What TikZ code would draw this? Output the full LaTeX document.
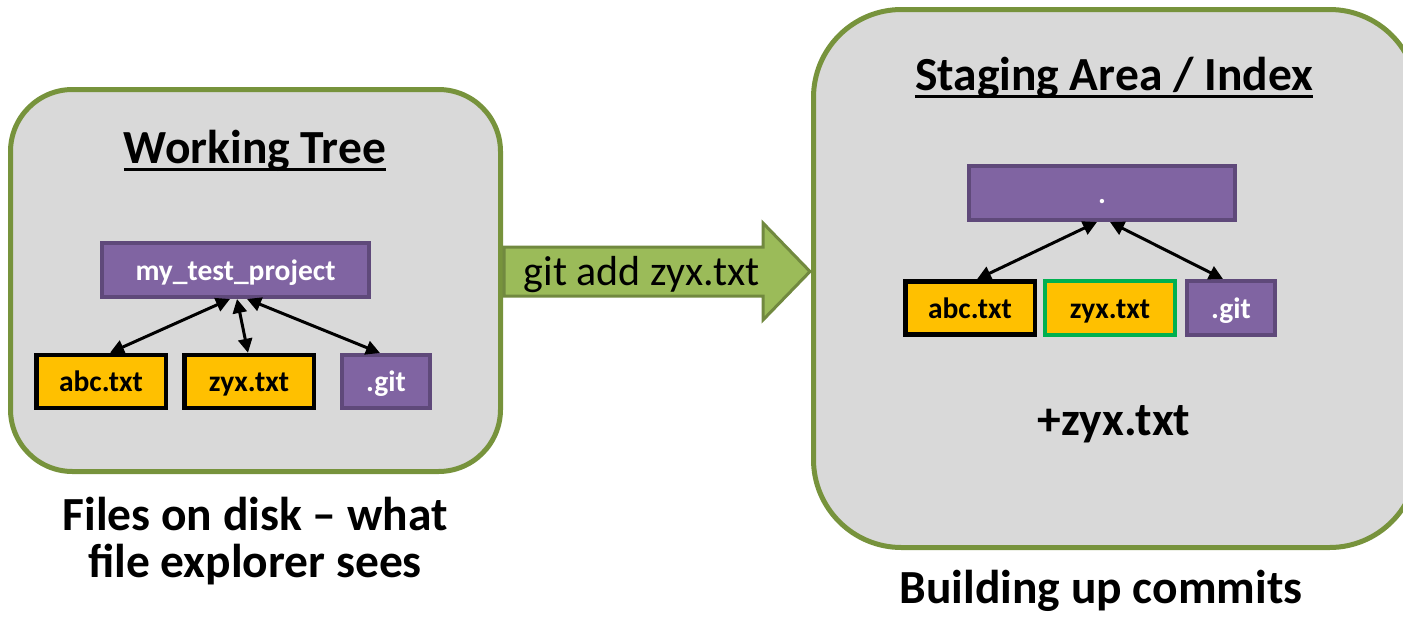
\documentclass[tikz,border=0pt]{standalone}
\usepackage{fontspec}
\setmainfont{Carlito}
\usetikzlibrary{arrows.meta,calc}
\definecolor{panelfill}{HTML}{D9D9D9}
\definecolor{panelline}{HTML}{77933C}
\definecolor{dirfill}{HTML}{8064A2}
\definecolor{dirline}{HTML}{5F497A}
\definecolor{filefill}{HTML}{FFC000}
\definecolor{stagedline}{HTML}{00B050}
\definecolor{cmdfill}{HTML}{9BBB59}
\definecolor{cmdline}{HTML}{71893F}
\begin{document}
\begin{tikzpicture}[x=1pt,y=-1pt,
  panel/.style={draw=panelline, fill=panelfill, line width=5pt, inner sep=0pt},
  bigtext/.style={inner sep=0pt, anchor=base, font=\fontsize{47.5}{48}\selectfont\bfseries},
  entry/.style={inner sep=0pt, line width=4pt, minimum height=54pt,
    font=\fontsize{29.5}{30}\selectfont\bfseries, text height=20pt, text depth=0pt},
  dirbox/.style={entry, draw=dirline, fill=dirfill, text=white},
  filebox/.style={entry, draw=black, fill=filefill, line width=4.5pt, minimum height=53pt},
  stagedbox/.style={entry, draw=stagedline, fill=filefill},
  link/.style={line width=3pt, {Triangle[length=14pt,width=14pt]}-{Triangle[length=14pt,width=14pt]}}
]
\useasboundingbox (0,0) rectangle (1403,616);

% ---- working tree panel ----
\node[panel, rounded corners=62pt, minimum width=490pt, minimum height=382pt] (wt) at (255.5,280.5) {};
\node[bigtext] (wtTitle) at (255,163) {Working Tree};
\draw[line width=2.5pt] ($(wtTitle.base west)+(0,6.5)$) -- ($(wtTitle.base east)+(0,6.5)$);

\node[dirbox, minimum width=267pt] (proj) at (235.5,270) {my\_test\_project};
\node[filebox, minimum width=129.5pt] (abc) at (101,381.5) {abc.txt};
\node[filebox, minimum width=129.5pt] (zyx) at (249,381.5) {zyx.txt};
\node[dirbox, minimum width=88pt, minimum height=53pt] (git) at (386,381.5) {.git};

\draw[link] ($(proj.south)+(-5.5,0)$) -- ($(abc.north)+(9,0)$);
\draw[link] ($(proj.south)+(1.5,0)$) -- ($(zyx.north)+(-1,0)$);
\draw[link] ($(proj.south)+(11.5,0)$) -- ($(git.north)+(-6,0)$);

\node[bigtext] (wtNote1) at (255,530) {Files on disk \textendash{} what};
\node[bigtext] (wtNote2) at (255,577) {file explorer sees};

% ---- staging area panel ----
\node[panel, rounded corners=88pt, minimum width=604pt, minimum height=538pt] (st) at (1115.5,278.5) {};
\node[bigtext] (stTitle) at (1114,90) {Staging Area / Index};
\draw[line width=2.5pt] ($(stTitle.base west)+(0,6.5)$) -- ($(stTitle.base east)+(0,6.5)$);

\node[dirbox, minimum width=266pt] (root) at (1102,193) {.};
\node[filebox, minimum width=129.5pt] (abcS) at (970,308) {abc.txt};
\node[stagedbox, minimum width=130pt] (zyxS) at (1110,308) {zyx.txt};
\node[dirbox, minimum width=88pt] (gitS) at (1231,308) {.git};

\draw[link] ($(root.south)+(-5,0)$) -- ($(abcS.north)+(7,0)$);
\draw[link] ($(root.south)+(8,0)$) -- ($(gitS.north)+(-8,0)$);

\node[bigtext] (added) at (1114,435) {+zyx.txt};
\node[bigtext] (stNote) at (1101,603) {Building up commits};

% ---- block arrow for the command ----
\draw[draw=cmdline, fill=cmdfill, line width=3pt, line join=miter]
  (504,247) -- (763,247) -- (763,223) -- (810,271.5) -- (763,320) -- (763,296) -- (504,296) -- cycle;
\node[inner sep=0pt, anchor=base, font=\fontsize{42}{42}\selectfont] (cmd) at (642,285) {git add zyx.txt};
\end{tikzpicture}
\end{document}
